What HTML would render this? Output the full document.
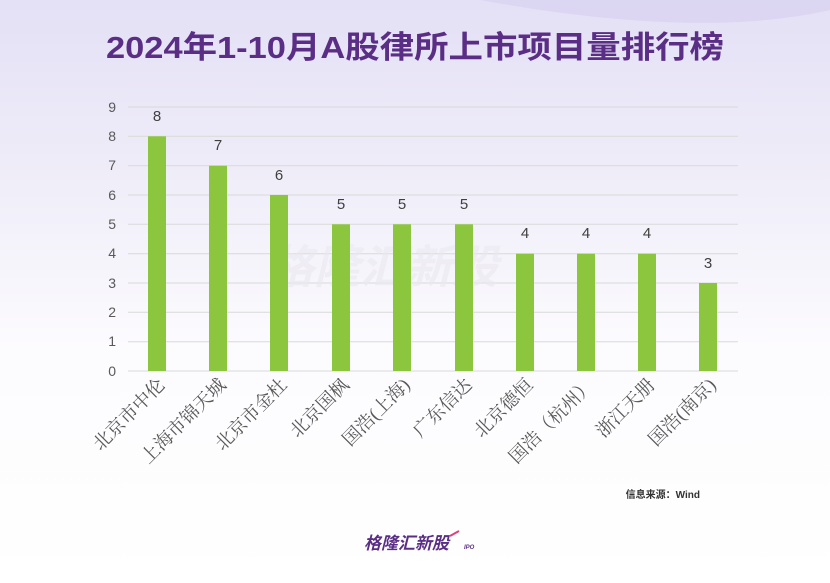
<!DOCTYPE html>
<html><head><meta charset="utf-8"><style>
body{margin:0;width:830px;height:578px;overflow:hidden;background:#fff}
</style></head><body>
<svg width="830" height="578" xmlns="http://www.w3.org/2000/svg">
<defs>
<linearGradient id="bg" x1="0" y1="0" x2="0" y2="1">
<stop offset="0" stop-color="#e4e0f6"/><stop offset="0.35" stop-color="#f1eff9"/><stop offset="0.6" stop-color="#fcfbfe"/><stop offset="1" stop-color="#ffffff"/>
</linearGradient>
</defs>
<rect width="830" height="578" fill="url(#bg)"/>
<path d="M480 0 Q700 40 830 10 L830 0 Z" fill="#d6cff0" opacity="0.6"/>
<text x="415" y="58" text-anchor="middle" font-family="Liberation Sans, Noto Sans CJK SC, sans-serif" font-weight="bold" font-size="31" fill="#5b2e86" textLength="618" lengthAdjust="spacingAndGlyphs">2024年1-10月A股律所上市项目量排行榜</text>
<g stroke="#d9d9d9" stroke-width="1">
<line x1="128" x2="738" y1="107" y2="107"/><line x1="128" x2="738" y1="136.3" y2="136.3"/><line x1="128" x2="738" y1="165.7" y2="165.7"/><line x1="128" x2="738" y1="195" y2="195"/><line x1="128" x2="738" y1="224.3" y2="224.3"/><line x1="128" x2="738" y1="253.7" y2="253.7"/><line x1="128" x2="738" y1="283" y2="283"/><line x1="128" x2="738" y1="312.3" y2="312.3"/><line x1="128" x2="738" y1="341.7" y2="341.7"/><line x1="128" x2="738" y1="371" y2="371"/>
</g>
<g font-family="Liberation Sans, sans-serif" font-size="14" fill="#595959" text-anchor="end">
<text x="116" y="112">9</text><text x="116" y="141">8</text><text x="116" y="170">7</text><text x="116" y="200">6</text><text x="116" y="229">5</text><text x="116" y="258">4</text><text x="116" y="288">3</text><text x="116" y="317">2</text><text x="116" y="346">1</text><text x="116" y="376">0</text>
</g>
<text x="268" y="283" font-family="Liberation Sans, Noto Sans CJK SC, sans-serif" font-weight="bold" font-style="italic" font-size="46" fill="#ebe8f0" opacity="0.6">格隆汇新股</text>
<g fill="#8cc63f">
<rect x="148" y="136.3" width="18" height="234.7"/><rect x="209" y="165.7" width="18" height="205.3"/><rect x="270" y="195" width="18" height="176"/><rect x="332" y="224.3" width="18" height="146.7"/><rect x="393" y="224.3" width="18" height="146.7"/><rect x="455" y="224.3" width="18" height="146.7"/><rect x="516" y="253.7" width="18" height="117.3"/><rect x="577" y="253.7" width="18" height="117.3"/><rect x="638" y="253.7" width="18" height="117.3"/><rect x="699" y="283" width="18" height="88"/>
</g>
<g font-family="Liberation Sans, sans-serif" font-size="15" fill="#404040" text-anchor="middle">
<text x="157" y="121">8</text><text x="218" y="150">7</text><text x="279" y="180">6</text><text x="341" y="209">5</text><text x="402" y="209">5</text><text x="464" y="209">5</text><text x="525" y="238">4</text><text x="586" y="238">4</text><text x="647" y="238">4</text><text x="708" y="268">3</text>
</g>
<g font-family="Liberation Serif, Noto Serif CJK SC, serif" font-size="18.5" fill="#595959" text-anchor="end">
<text transform="translate(166,386) rotate(-45)">北京市中伦</text>
<text transform="translate(227,386) rotate(-45)">上海市锦天城</text>
<text transform="translate(288,386) rotate(-45)">北京市金杜</text>
<text transform="translate(350,386) rotate(-45)">北京国枫</text>
<text transform="translate(411,386) rotate(-45)">国浩(上海)</text>
<text transform="translate(473,386) rotate(-45)">广东信达</text>
<text transform="translate(534,386) rotate(-45)">北京德恒</text>
<text transform="translate(595,386) rotate(-45)">国浩（杭州）</text>
<text transform="translate(656,386) rotate(-45)">浙江天册</text>
<text transform="translate(717,386) rotate(-45)">国浩(南京)</text>
</g>
<text x="700" y="498" text-anchor="end" font-family="Liberation Sans, Noto Sans CJK SC, sans-serif" font-weight="bold" font-size="10" fill="#333">信息来源：Wind</text>
<text x="364" y="549" font-family="Liberation Sans, Noto Sans CJK SC, sans-serif" font-weight="bold" font-style="italic" font-size="17" fill="#5b2e86">格隆汇新股</text>
<path d="M450 536 L459 531" stroke="#e0407a" stroke-width="2"/>
<text x="464" y="549" font-family="Liberation Sans, sans-serif" font-weight="bold" font-style="italic" font-size="6" fill="#5b2e86">IPO</text>
</svg>
</body></html>
